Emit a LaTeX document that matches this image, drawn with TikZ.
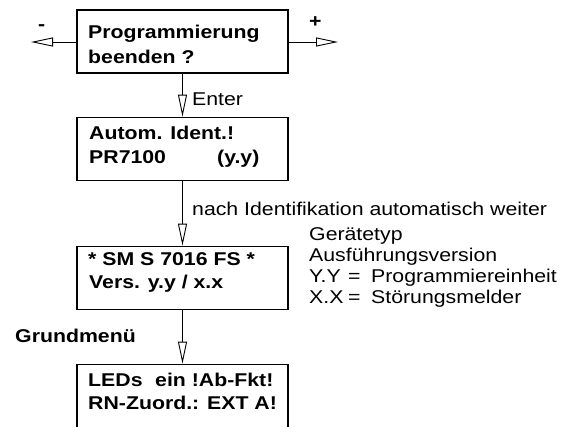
\documentclass[tikz,border=0pt]{standalone}
\usepackage{fontspec}
\setmainfont[FakeStretch=1.15]{Liberation Sans}
\usetikzlibrary{arrows.meta}
\begin{document}
\begin{tikzpicture}[x=1pt,y=-1pt,
  box/.style={draw,line width=1.8pt,minimum width=211pt,minimum height=63pt,inner sep=0pt},
  txt/.style={inner sep=0pt,anchor=base west,font=\fontsize{18.5pt}{22pt}\selectfont},
  btxt/.style={txt,font=\fontsize{18.5pt}{22pt}\selectfont\bfseries},
  conn/.style={line width=0.9pt,-{Triangle[open,length=22pt,width=9pt,line width=0.9pt,fill=white]}}]
\useasboundingbox (0,0) rectangle (584,426);
% boxes
\node[box] (b1) at (182.5,41.5) {};
\node[box] (b2) at (182.5,149) {};
\node[box] (b3) at (182.5,278) {};
\node[box] (b4) at (182.5,396) {};
% box texts
\node[btxt] (t1a) at (88,38) {Programmierung};
\node[btxt] (t1b) at (88,63) {beenden ?};
\node[btxt] (t2a) at (89,139) {Autom. Ident.!};
\node[btxt] (t2b) at (89,163) {\makebox[128pt][l]{PR7100}(y.y)};
\node[btxt] (t3a) at (88,265) {* SM S 7016 FS *};
\node[btxt] (t3b) at (89,288) {Vers. y.y / x.x};
\node[btxt] (t4a) at (88,386) {\makebox[67pt][l]{LEDs}ein !Ab-Fkt!};
\node[btxt] (t4b) at (88,409) {RN-Zuord.: EXT A!};
% side arrows
\coordinate (lend) at (31,42);
\coordinate (rend) at (338,42);
\coordinate (b1l) at (b1.west |- lend);
\coordinate (b1r) at (b1.east |- rend);
\draw[conn] (b1l) -- (lend);
\draw[conn] (b1r) -- (rend);
\node[btxt] (minus) at (38,30) {-};
\node[btxt] (plus) at (309,27) {+};
% vertical arrows
\draw[conn] (b1.south) -- (b2.north);
\draw[conn] (b2.south) -- (b3.north);
\draw[conn] (b3.south) -- (b4.north);
% labels
\node[txt] (enter) at (192,105) {Enter};
\node[txt] (nach) at (192,215) {nach Identifikation automatisch weiter};
\node[btxt] (grund) at (15,342) {Grundmenü};
\node[txt] (r1) at (309,240) {Gerätetyp};
\node[txt] (r2) at (309,261) {Ausführungsversion};
\node[txt] (r3) at (309,282) {\makebox[39pt][l]{Y.Y}\makebox[23pt][l]{=}Programmiereinheit};
\node[txt] (r4) at (309,303) {\makebox[39pt][l]{X.X}\makebox[23pt][l]{=}Störungsmelder};
\end{tikzpicture}
\end{document}
